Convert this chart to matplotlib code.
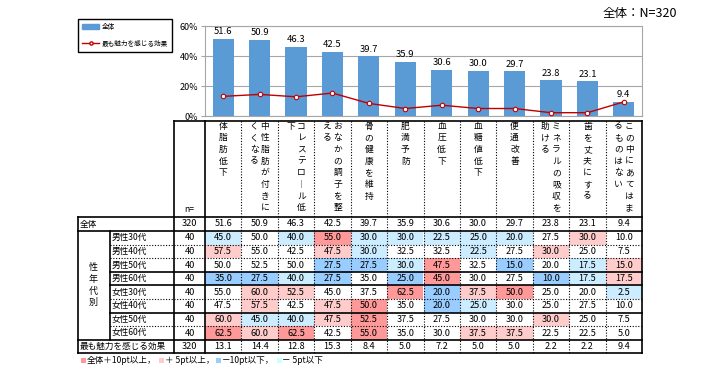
import matplotlib
matplotlib.use('Agg')
import matplotlib.pyplot as plt
from matplotlib.lines import Line2D
from matplotlib.patches import Rectangle, Patch

plt.rcParams['font.family'] = ['Noto Sans CJK JP', 'DejaVu Sans']

items = ['体脂肪低下', '中性脂肪が付きにくくなる', 'コレステロール低下', 'おなかの調子を整える',
         '骨の健康を維持', '肥満予防', '血圧低下', '血糖値低下', '便通改善',
         'ミネラルの吸収を助ける', '歯を丈夫にする', 'この中にあてはまるものはない']
overall = [51.6, 50.9, 46.3, 42.5, 39.7, 35.9, 30.6, 30.0, 29.7, 23.8, 23.1, 9.4]
best = [13.1, 14.4, 12.8, 15.3, 8.4, 5.0, 7.2, 5.0, 5.0, 2.2, 2.2, 9.4]
n_all = 320
groups = ['男性30代', '男性40代', '男性50代', '男性60代',
          '女性30代', '女性40代', '女性50代', '女性60代']
group_n = [40, 40, 40, 40, 40, 40, 40, 40]
group_vals = [
    [45.0, 50.0, 40.0, 55.0, 30.0, 30.0, 22.5, 25.0, 20.0, 27.5, 30.0, 10.0],
    [57.5, 55.0, 42.5, 47.5, 30.0, 32.5, 32.5, 22.5, 27.5, 30.0, 25.0, 7.5],
    [50.0, 52.5, 50.0, 27.5, 27.5, 30.0, 47.5, 32.5, 15.0, 20.0, 17.5, 15.0],
    [35.0, 27.5, 40.0, 27.5, 35.0, 25.0, 45.0, 30.0, 27.5, 10.0, 17.5, 17.5],
    [55.0, 60.0, 52.5, 45.0, 37.5, 62.5, 20.0, 37.5, 50.0, 25.0, 20.0, 2.5],
    [47.5, 57.5, 42.5, 47.5, 50.0, 35.0, 20.0, 25.0, 30.0, 25.0, 27.5, 10.0],
    [60.0, 45.0, 40.0, 47.5, 52.5, 37.5, 27.5, 30.0, 30.0, 30.0, 25.0, 7.5],
    [62.5, 60.0, 62.5, 42.5, 55.0, 35.0, 30.0, 37.5, 37.5, 22.5, 22.5, 5.0],
]
key_labels = ['全体＋10pt以上，', '＋ 5pt以上，', '－10pt以下，', '－ 5pt以下']

BAR = '#5B9BD5'
RED = '#C00000'
C_UP10, C_UP5, C_DN10, C_DN5 = '#FF9999', '#FFCCCC', '#99CCFF', '#CCECFF'

W, H = 718, 377
fig = plt.figure(figsize=(W / 100, H / 100), dpi=100)


def fx(x):
    return x / W


def fy(y):
    return 1 - y / H


# ---- bar chart ----
x_d0, x_right = 205, 642
ax = fig.add_axes([fx(x_d0), fy(116), (x_right - x_d0) / W, (116 - 26) / H])
xs = list(range(len(items)))
ax.bar(xs, overall, width=0.58, color=BAR, zorder=2)
ax.plot(xs, best, color=RED, lw=1, marker='o', ms=3.2, mfc='white',
        mec=RED, mew=0.8, zorder=3)
for i, v in enumerate(overall):
    ax.annotate('{0:.1f}'.format(v), (i, v), xytext=(0, 2), textcoords='offset points',
                ha='center', va='bottom', fontsize=6.8)
ax.set_xlim(-0.5, len(items) - 0.5)
ax.set_ylim(0, 60)
ax.set_yticks([0, 20, 40, 60])
ax.set_yticklabels(['0%', '20%', '40%', '60%'], fontsize=6.5)
ax.set_xticks([])
ax.yaxis.grid(True, color='#A6A6A6', lw=0.8)
ax.set_axisbelow(True)
for s in ax.spines.values():
    s.set_color('#A6A6A6')
ax.tick_params(axis='y', length=3, color='#A6A6A6', pad=2)

fig.text(fx(603), fy(14), '全体：N=320', fontsize=9, va='center', ha='left')

fig.legend(handles=[Patch(color=BAR),
                    Line2D([], [], color=RED, lw=1, marker='o', ms=2.3,
                           mfc='white', mec=RED)],
           labels=['全体', '最も魅力を感じる効果'],
           loc='upper left', bbox_to_anchor=(fx(78), fy(19)), borderaxespad=0,
           fontsize=4.8, frameon=True, fancybox=False, edgecolor='black', framealpha=1,
           borderpad=0.6, labelspacing=1.3, handlelength=2.6, handleheight=0.8,
           handletextpad=0.35)

# ---- table ----
x_left, x_grp, x_n = 78, 110, 174
col_w = (x_right - x_d0) / len(items)
y_top, y_head, y_all = 121, 217, 231
row_h = 13.6
y_grp_end = y_all + row_h * len(groups)
y_bottom = y_grp_end + row_h


def line(x0, y0, x1, y1, dotted=False):
    fig.add_artist(Line2D([fx(x0), fx(x1)], [fy(y0), fy(y1)], transform=fig.transFigure,
                          color='black', lw=0.8 if dotted else 1.2,
                          ls=(0, (1, 1.5)) if dotted else '-'))


def cell_color(v, base):
    d = round(v - base, 1)
    if d >= 10:
        return C_UP10
    if d >= 5:
        return C_UP5
    if d <= -10:
        return C_DN10
    if d <= -5:
        return C_DN5
    return None


# colored cells
for r, vals in enumerate(group_vals):
    y0 = y_all + r * row_h
    for c, v in enumerate(vals):
        col = cell_color(v, overall[c])
        if col:
            fig.add_artist(Rectangle((fx(x_d0 + c * col_w), fy(y0 + row_h)),
                                     col_w / W, row_h / H, transform=fig.transFigure,
                                     facecolor=col, edgecolor='none'))

# horizontal lines
line(x_n, y_top, x_right, y_top)
line(x_left, y_head, x_right, y_head)
line(x_left, y_all, x_right, y_all)
solid_after = [2, 3, 5]
for r in range(len(groups) - 1):
    y = y_all + (r + 1) * row_h
    line(x_grp, y, x_right, y, dotted=(r not in solid_after))
line(x_left, y_grp_end, x_right, y_grp_end)
line(x_left, y_bottom, x_right, y_bottom)

# vertical lines
line(x_left, y_head, x_left, y_bottom)
line(x_grp, y_all, x_grp, y_grp_end)
line(x_n, y_top, x_n, y_bottom)
line(x_d0, y_top, x_d0, y_bottom)
for c in range(1, len(items)):
    x = x_d0 + c * col_w
    line(x, y_top, x, y_bottom, dotted=True)
line(x_right, y_top, x_right, y_bottom)

# header: vertical item labels (right-to-left columns of 8 chars)
fs_head = 6.3
for c, name in enumerate(items):
    cx = x_d0 + (c + 0.5) * col_w
    chunks = [name[i:i + 8] for i in range(0, len(name), 8)]
    offs = [0] if len(chunks) == 1 else [5.4, -5.4]
    for k, chunk in enumerate(chunks):
        for j, ch in enumerate(chunk):
            ch = '︱' if ch == 'ー' else ch
            fig.text(fx(cx + offs[k]), fy(126 + j * 11.7), ch, fontsize=fs_head,
                     ha='center', va='center')
fig.text(fx((x_n + x_d0) / 2), fy(210), 'n=', fontsize=6.2, ha='center', va='center')

fs = 6.6
x_ncen = (x_n + x_d0) / 2
# overall row
yc = (y_head + y_all) / 2
fig.text(fx(x_left + 2), fy(yc), '全体', fontsize=6.2, ha='left', va='center')
fig.text(fx(x_ncen), fy(yc), str(n_all), fontsize=fs, ha='center', va='center')
for c, v in enumerate(overall):
    fig.text(fx(x_d0 + (c + 0.5) * col_w), fy(yc), '{0:.1f}'.format(v),
             fontsize=fs, ha='center', va='center')

# group rows
for r, (g, n, vals) in enumerate(zip(groups, group_n, group_vals)):
    yc = y_all + (r + 0.5) * row_h
    fig.text(fx(x_grp + 2), fy(yc), g, fontsize=6.2, ha='left', va='center')
    fig.text(fx(x_ncen), fy(yc), str(n), fontsize=fs, ha='center', va='center')
    for c, v in enumerate(vals):
        fig.text(fx(x_d0 + (c + 0.5) * col_w), fy(yc), '{0:.1f}'.format(v),
                 fontsize=fs, ha='center', va='center')

# vertical group label
ymid = (y_all + y_grp_end) / 2
for j, ch in enumerate('性年代別'):
    fig.text(fx(93), fy(ymid + (j - 1.5) * 11.7), ch, fontsize=6.5,
             ha='center', va='center')

# last row
yc = (y_grp_end + y_bottom) / 2
fig.text(fx(x_left + 2), fy(yc), '最も魅力を感じる効果', fontsize=6.2, ha='left', va='center')
fig.text(fx(x_ncen), fy(yc), str(n_all), fontsize=fs, ha='center', va='center')
for c, v in enumerate(best):
    fig.text(fx(x_d0 + (c + 0.5) * col_w), fy(yc), '{0:.1f}'.format(v),
             fontsize=fs, ha='center', va='center')

# color key below table, laid out left to right
renderer = fig.canvas.get_renderer()
key_colors = [C_UP10, C_UP5, C_DN10, '#CCFFFF']
x = 81
for col, label in zip(key_colors, key_labels):
    fig.add_artist(Rectangle((fx(x), fy(363)), 5 / W, 5 / H, transform=fig.transFigure,
                             facecolor=col, edgecolor='none'))
    t = fig.text(fx(x + 6), fy(360.5), label, fontsize=6.2, ha='left', va='center')
    x = t.get_window_extent(renderer).x1 + 2

fig.savefig('out.png', dpi=100)
